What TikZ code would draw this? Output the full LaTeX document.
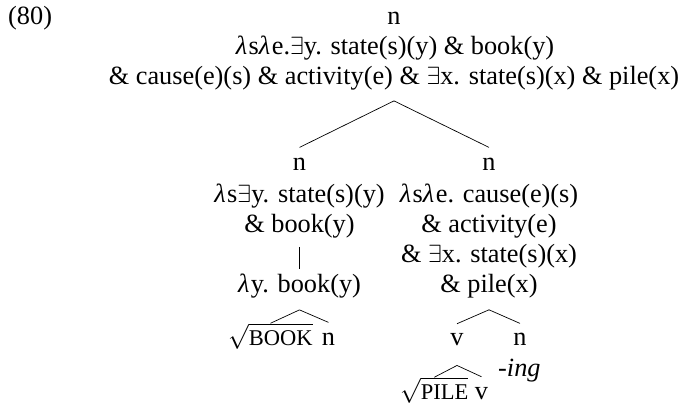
\documentclass[tikz,border=0pt]{standalone}
\usepackage{fontspec}
\setmainfont{Liberation Serif}
\usetikzlibrary{calc}
\newcommand{\exq}{\ensuremath{\exists}}
\newcommand{\lam}{{\itshape λ}\kern1.5pt}
\newcommand{\rootsc}[1]{\ensuremath{\sqrt{\mbox{\fontsize{22.5}{27}\selectfont #1}}}}
\tikzset{
  txt/.style={inner sep=0pt, anchor=base, font=\fontsize{26.3}{30}\selectfont},
  branch/.style={line width=0.7pt, draw=black}
}
\begin{document}
\begin{tikzpicture}[x=1pt,y=-1pt]
\fill[white] (0,0) rectangle (683,406);
\useasboundingbox (0,0) rectangle (683,406);
% example number
\node[txt, anchor=base west] (num) at (8,25) {(80)};
% root
\node[txt] (tn) at (394,25) {n};
\node[txt] (t1) at (395,55) {\lam s\lam e.\exq y. state(s)(y) \& book(y)};
\node[txt] (t2) at (394,85) {\& cause(e)(s) \& activity(e) \& \exq x. state(s)(x) \& pile(x)};
% left daughter
\node[txt] (ln) at (299.5,171) {n};
\node[txt] (l1) at (299.5,203) {\lam s\exq y. state(s)(y)};
\node[txt] (l2) at (299.5,233) {\& book(y)};
\node[txt] (l3) at (299.5,293) {\lam y. book(y)};
\node[txt, anchor=base west] (book) at (228,345) {\rootsc{BOOK}};
\node[txt] (bn) at (328.5,345) {n};
% right daughter
\node[txt] (rn) at (489,171) {n};
\node[txt] (r1) at (489,203) {\lam s\lam e. cause(e)(s)};
\node[txt] (r2) at (489,233) {\& activity(e)};
\node[txt] (r3) at (489,262) {\& \exq x. state(s)(x)};
\node[txt] (r4) at (489,292) {\& pile(x)};
\node[txt] (rv) at (457,345) {v};
\node[txt] (rn2) at (520,345) {n};
\node[txt, anchor=base west] (ing) at (498,376) {\textit{-ing}};
\node[txt, anchor=base west] (pile) at (400,399) {\rootsc{PILE}};
\node[txt] (pv) at (481.5,399) {v};
% branches
\draw[branch] ($(t2.south)+(0,10)$) -- ($(ln.north)+(0,-11)$);
\draw[branch] ($(t2.south)+(0,10)$) -- ($(rn.north)+(0,-11)$);
\draw[branch] ($(l2.south)+(0,8)$) -- ($(l3.north)+(0,-5)$);
\draw[branch] ($(l3.south)+(0,11)$) -- (book.north);
\draw[branch] ($(l3.south)+(0,11)$) -- ($(bn.north)+(0,-10)$);
\draw[branch] ($(r4.south)+(0,12)$) -- ($(rv.north)+(0,-9)$);
\draw[branch] ($(r4.south)+(0,12)$) -- ($(rn2.north)+(0,-9)$);
\draw[branch] ($(rv.south)+(0,20)$) -- (pile.north);
\draw[branch] ($(rv.south)+(0,20)$) -- ($(pv.north)+(0,-10)$);
\end{tikzpicture}
\end{document}
